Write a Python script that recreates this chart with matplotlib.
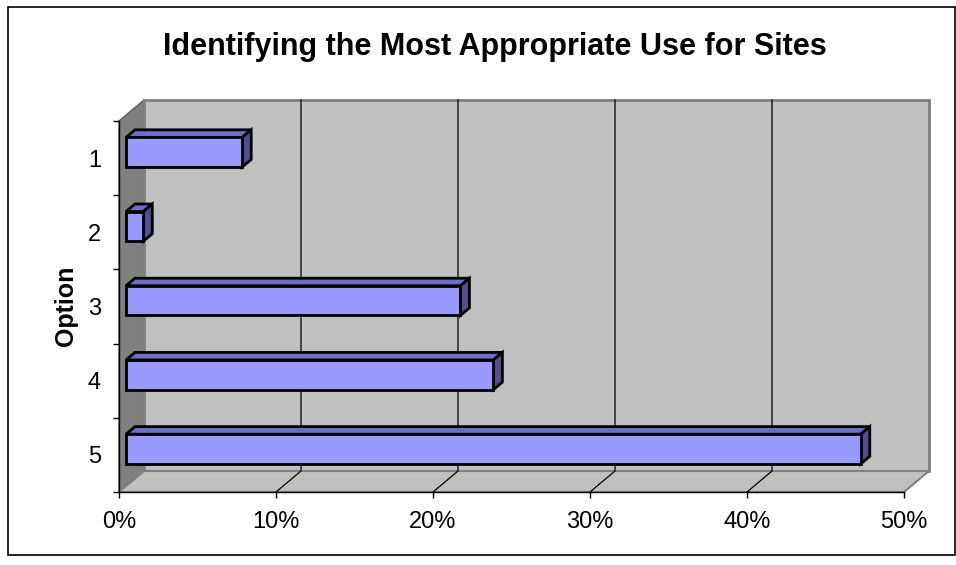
import matplotlib
matplotlib.use("Agg")
import matplotlib.pyplot as plt
from matplotlib.patches import Polygon, Rectangle
from matplotlib.lines import Line2D

plt.rcParams['font.family'] = ['Liberation Sans', 'DejaVu Sans']

# ---- data -------------------------------------------------------------
title = "Identifying the Most Appropriate Use for Sites"
options = ["1", "2", "3", "4", "5"]
shares = [7.4, 1.1, 21.3, 23.4, 46.8]          # percent of responses
x_ticks = [0, 10, 20, 30, 40, 50]
x_tick_labels = ["0%", "10%", "20%", "30%", "40%", "50%"]
y_label = "Option"

# ---- styling ----------------------------------------------------------
WALL = "#C0C0C0"
SIDE = "#808080"
EDGE = "#808080"
BAR_FRONT = "#9999FF"
BAR_TOP = "#6E6EC8"
BAR_SIDE = "#50508C"

W, H = 956, 565
fig = plt.figure(figsize=(W / 100, H / 100), dpi=100)
fig.patch.set_facecolor("white")

# front plane of the 3-D box, in pixels (top-left origin)
L, R, T, B = 119, 904, 121, 492
ax = fig.add_axes([L / W, 1 - B / H, (R - L) / W, (B - T) / H])
xmax = x_ticks[-1]
n = len(options)
ax.set_xlim(0, xmax)
ax.set_ylim(n + 0.5, 0.5)
ax.patch.set_visible(False)

# depth of the box expressed in data units (25 px right, 21 px up)
DX = 25 * xmax / (R - L)
DY = -21 * n / (B - T)


def P(x, y, d):
    return (x + d * DX, y + d * DY)


y0, y1 = 0.5, n + 0.5

# side wall, back wall, floor
ax.add_patch(Polygon([P(0, y0, 0), P(0, y0, 1), P(0, y1, 1), P(0, y1, 0)],
                     closed=True, facecolor=SIDE, edgecolor="#606060",
                     lw=1, clip_on=False, zorder=1))
ax.add_patch(Polygon([P(0, y0, 1), P(xmax, y0, 1), P(xmax, y1, 1), P(0, y1, 1)],
                     closed=True, facecolor=WALL, edgecolor=EDGE,
                     lw=2, clip_on=False, zorder=1))
ax.add_patch(Polygon([P(0, y1, 0), P(xmax, y1, 0), P(xmax, y1, 1), P(0, y1, 1)],
                     closed=True, facecolor=WALL, edgecolor=EDGE,
                     lw=1.5, clip_on=False, zorder=1.5))

# gridlines running across the floor and up the back wall
for v in x_ticks[1:-1]:
    pts = [P(v, y1, 0), P(v, y1, 1), P(v, y0, 1)]
    ax.add_line(Line2D([p[0] for p in pts], [p[1] for p in pts],
                       color="black", lw=0.9, clip_on=False, zorder=2))

# 3-D bars
FRONT, BACK, HALF = 0.28, 0.64, 0.2
for i, val in enumerate(shares):
    yc = i + 1
    top, bot = yc - HALF, yc + HALF
    front = [P(0, top, FRONT), P(val, top, FRONT), P(val, bot, FRONT), P(0, bot, FRONT)]
    topf = [P(0, top, FRONT), P(0, top, BACK), P(val, top, BACK), P(val, top, FRONT)]
    side = [P(val, top, FRONT), P(val, top, BACK), P(val, bot, BACK), P(val, bot, FRONT)]
    for poly, col in ((topf, BAR_TOP), (side, BAR_SIDE), (front, BAR_FRONT)):
        ax.add_patch(Polygon(poly, closed=True, facecolor=col, edgecolor="black",
                             lw=2, joinstyle="miter", clip_on=False, zorder=3))

# axes: bottom = front floor edge, left = front side-wall edge
for s in ("top", "right"):
    ax.spines[s].set_visible(False)
for s in ("bottom", "left"):
    ax.spines[s].set_color("black")
    ax.spines[s].set_linewidth(1)
    ax.spines[s].set_zorder(2.5)

ax.set_xticks(x_ticks)
ax.set_xticklabels(x_tick_labels)
ax.tick_params(axis="x", direction="out", length=4.5, width=1, pad=9,
               labelsize=17, colors="black")

ax.set_yticks([k + 0.5 for k in range(n + 1)])
ax.set_yticklabels([])
ax.set_yticks(range(1, n + 1), minor=True)
ax.set_yticklabels(options, minor=True)
ax.tick_params(axis="y", which="major", direction="out", length=4.5, width=1)
ax.tick_params(axis="y", which="minor", length=0, pad=13, labelsize=17)

fig.text(66 / W, 1 - 306 / H, y_label, rotation=90, ha="center", va="center",
         fontsize=18, fontweight="bold")
fig.text(495 / W, 1 - 47 / H, title, ha="center", va="center",
         fontsize=22, fontweight="bold")

# chart frame
fig.add_artist(Rectangle((8 / W, 1 - 555 / H), (955 - 8) / W, (555 - 7) / H,
                         transform=fig.transFigure, fill=False,
                         edgecolor="black", lw=1.2))

fig.savefig("out.png", dpi=100)
